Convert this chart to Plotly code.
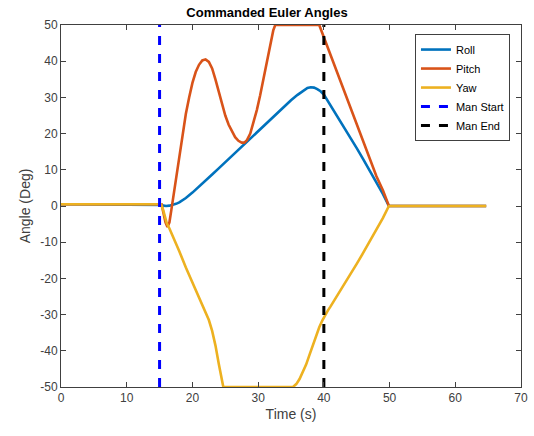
import plotly.graph_objects as go

# Commanded attitude profiles (time in s, angles in deg)
roll_t = [0, 15, 15.3, 15.6, 16, 16.5, 17, 17.5, 18, 19, 20, 21, 22, 23, 24, 25, 26, 27, 28, 29, 30, 31, 32, 33, 34, 35,
          36, 36.5, 37, 37.5, 38, 38.5, 39, 39.5, 40, 41, 42, 43, 44, 45, 46, 47, 48, 49, 49.9, 64.7]
roll_v = [0.5, 0.5, 0.3, 0.1, 0, 0.1, 0.3, 0.6, 1, 2.2, 3.7, 5.3, 7, 8.7, 10.4, 12.1, 13.8, 15.5, 17.2, 19, 20.7,
          22.4, 24.2, 25.9, 27.6, 29.2, 30.7, 31.4, 32.1, 32.6, 32.8, 32.7, 32.3, 31.7, 30.8, 27.9, 25, 22, 19, 16, 12.9,
          9.8, 6.6, 3.3, 0, 0]

pitch_t = [0, 15.3, 15.6, 15.9, 16.2, 16.5, 16.8, 17.2, 17.6, 18, 18.5, 19, 19.5, 20, 20.5, 21, 21.5, 22, 22.5, 23,
           23.5, 24, 24.5, 25, 25.5, 26, 26.5, 27, 27.5, 27.9, 28.3, 28.8, 29.3, 29.8, 30.3, 30.8, 31.3, 31.8, 32.3,
           32.6, 39.3, 40, 41, 42, 43, 44, 45, 46, 47, 48, 49, 49.9, 64.7]
pitch_v = [0.5, 0.5, -2, -4.5, -5.8, -4.5, -1, 4, 9, 14, 20, 25.5, 30, 34, 37, 39, 40.2, 40.5, 39.8, 38, 35, 31.5,
           28, 25, 22.5, 20.5, 19, 18, 17.5, 17.5, 18.2, 20, 23, 26.5, 30.5, 35, 39.5, 44, 48.5, 50, 50, 46.6, 41.8,
           37, 32.2, 27.4, 22.6, 17.8, 13, 8.2, 4.3, 0, 0]

yaw_t = [0, 15.2, 15.5, 15.8, 16.1, 16.5, 17, 17.5, 18, 19, 20, 21, 21.5, 22, 22.5, 23, 23.5, 24, 24.4, 24.7,
         35.3, 35.8, 36.3, 36.8, 37.3, 37.8, 38.3, 38.8, 39.3, 39.8, 40.2, 40.6, 41, 42, 43, 44, 45, 46, 47, 48, 49,
         49.9, 64.7]
yaw_v = [0.5, 0.5, -0.8, -3, -4.8, -6.2, -8.2, -10.3, -12.5, -17, -21, -25, -27, -29, -31.5, -34.5, -38.5, -43.5,
         -47.5, -50, -50, -49.2, -47.8, -46, -43.8, -41.2, -38.5, -35.8, -33.5, -31.5, -30, -28.9, -27.8, -24.9,
         -22, -19, -16, -12.9, -9.8, -6.6, -3.3, 0, 0]

man_start = 15
man_end = 40

fig = go.Figure()
fig.add_trace(go.Scatter(x=roll_t, y=roll_v, name="Roll", mode="lines",
                         line=dict(color="#0072BD", width=2.6)))
fig.add_trace(go.Scatter(x=pitch_t, y=pitch_v, name="Pitch", mode="lines",
                         line=dict(color="#D95319", width=2.6)))
fig.add_trace(go.Scatter(x=yaw_t, y=yaw_v, name="Yaw", mode="lines",
                         line=dict(color="#EDB120", width=2.6)))
fig.add_trace(go.Scatter(x=[man_start, man_start], y=[-50, 50], name="Man Start", mode="lines",
                         line=dict(color="#0000FF", width=3, dash="dash")))
fig.add_trace(go.Scatter(x=[man_end, man_end], y=[-50, 50], name="Man End", mode="lines",
                         line=dict(color="#000000", width=3, dash="dash")))

FONT = "Liberation Sans, Arial"
x_ticks = [0, 10, 20, 30, 40, 50, 60, 70]
y_ticks = [-50, -40, -30, -20, -10, 0, 10, 20, 30, 40, 50]

axis_common = dict(
    showgrid=False, zeroline=False, showline=True, linecolor="#404040", linewidth=1,
    mirror="ticks", ticks="inside", ticklen=5, tickcolor="#404040", automargin=False,
    tickfont=dict(family=FONT, size=12, color="#404040"),
)

fig.update_layout(
    width=534, height=436,
    margin=dict(l=61, r=13, t=25, b=49),
    paper_bgcolor="white", plot_bgcolor="white",
    title=dict(text="<b>Commanded Euler Angles</b>", x=0.5, xanchor="center",
               y=1 - 12 / 436, yanchor="middle",
               font=dict(family=FONT, size=13, color="black")),
    xaxis=dict(range=[0, 70], tickvals=x_ticks, ticktext=[str(v) for v in x_ticks],
               title=dict(text="Time (s)", standoff=4, font=dict(family=FONT, size=14, color="#404040")),
               **axis_common),
    yaxis=dict(range=[-50, 50], tickvals=y_ticks, ticktext=[str(v) for v in y_ticks],
               title=dict(text="Angle (Deg)", standoff=6, font=dict(family=FONT, size=14, color="#404040")),
               **axis_common),
    legend=dict(x=0.976, y=0.975, xanchor="right", yanchor="top",
                bgcolor="white", bordercolor="#404040", borderwidth=1,
                font=dict(family=FONT, size=11, color="black"),
                tracegroupgap=0, itemwidth=30),
    showlegend=True,
)

fig.write_html("out.html")
